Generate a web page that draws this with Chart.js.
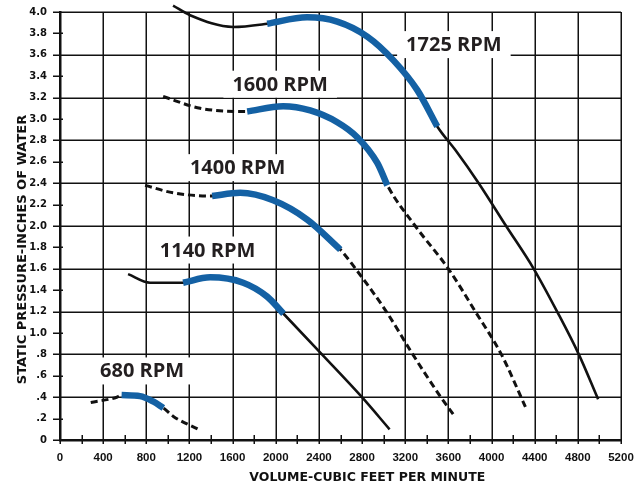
<!DOCTYPE html>
<html>
<head>
<meta charset="utf-8">
<script src="https://cdn.jsdelivr.net/npm/chart.js@4.4.1/dist/chart.umd.min.js"></script>
<style>
  body { margin: 0; background: #fff; }
  canvas { display: block; }
</style>
</head>
<body>
<canvas id="fanChart" width="644" height="484"></canvas>
<script>
// FAN CURVES: volume (cfm) and static pressure (in. of water)
const cfm1725 = [1048, 1206, 1605, 1920, 2291, 2570, 2848, 3089, 3312, 3497, 3665, 3881, 4135, 4391, 4608, 4809, 4988];
const sp1725  = [4.06, 3.97, 3.86, 3.89, 3.95, 3.91, 3.77, 3.55, 3.27, 2.93, 2.71, 2.40, 2.00, 1.60, 1.20, 0.80, 0.38];

const cfm1600 = [956, 1299, 1735, 2069, 2319, 2570, 2755, 2941, 3034, 3293, 3600, 3850, 4091, 4314];
const sp1600  = [3.21, 3.10, 3.07, 3.12, 3.08, 2.97, 2.83, 2.59, 2.38, 2.00, 1.60, 1.20, 0.80, 0.31];

const cfm1400 = [789, 1048, 1410, 1670, 1976, 2291, 2598, 2740, 3025, 3270, 3530, 3660];
const sp1400  = [2.38, 2.31, 2.28, 2.31, 2.24, 2.06, 1.78, 1.60, 1.20, 0.80, 0.40, 0.22];

const cfm1140 = [631, 835, 1141, 1392, 1698, 1920, 2072, 2428, 2799, 3055];
const sp1140  = [1.55, 1.47, 1.47, 1.52, 1.47, 1.34, 1.18, 0.80, 0.40, 0.10];

const cfm680 = [285, 526, 571, 742, 863, 958, 1051, 1283];
const sp680  = [0.35, 0.40, 0.42, 0.41, 0.36, 0.30, 0.22, 0.10];

// which part of each curve is highlighted (first and last point index)
const rpmNames  = ["1725 RPM", "1600 RPM", "1400 RPM", "1140 RPM", "680 RPM"];
const curveCfm  = [cfm1725, cfm1600, cfm1400, cfm1140, cfm680];
const curveSp   = [sp1725, sp1600, sp1400, sp1140, sp680];
const blueFrom  = [3, 2, 2, 2, 2];
const blueTo    = [9, 8, 6, 6, 5];
const isDashed  = [false, true, true, false, true];

// where the RPM captions sit (cfm, in. of water)
const labelCfm = [3651, 2041, 1647, 1368, 761];
const labelSp  = [3.70, 3.33, 2.55, 1.78, 0.65];

// TICK LABELS
const xLabels = ["0","400","800","1200","1600","2000","2400","2800","3200","3600","4000","4400","4800","5200"];
const yLabels = ["0",".2",".4",".6",".8","1.0","1.2","1.4","1.6","1.8","2.0","2.2","2.4","2.6","2.8","3.0","3.2","3.4","3.6","3.8","4.0"];

const BLACK = "#111";
const BLUE = "#1461a4";

function toPoints(xs, ys, a, b) {
    const pts = [];
    for (let i = a; i <= b; i++) pts.push({ x: xs[i], y: ys[i] });
    return pts;
}

const fanDatasets = [];
rpmNames.forEach((name, i) => {
    const xs = curveCfm[i], ys = curveSp[i];
    fanDatasets.push({
        label: name,
        data: toPoints(xs, ys, 0, xs.length - 1),
        borderColor: BLACK,
        borderWidth: isDashed[i] ? 3 : 2.6,
        borderDash: isDashed[i] ? [7, 4] : [],
        order: 1
    });
    fanDatasets.push({
        label: name + " range",
        data: toPoints(xs, ys, blueFrom[i], blueTo[i]),
        borderColor: BLUE,
        borderWidth: 6.5,
        borderCapStyle: "butt",
        order: 0
    });
});

// GRID: a line on every other tick, a short mark on every tick
const paperGrid = {
    id: "paperGrid",
    beforeDatasetsDraw(chart) {
        const c = chart.ctx;
        const { left, right, top, bottom } = chart.chartArea;
        const sx = chart.scales.x, sy = chart.scales.y;
        c.save();
        c.strokeStyle = BLACK;
        c.lineWidth = 1.5;
        c.beginPath();
        sx.ticks.forEach((t, i) => {
            const p = Math.round(sx.getPixelForValue(t.value)) + 0.25;
            if (i % 2 === 0) { c.moveTo(p, top); c.lineTo(p, bottom); }
            c.moveTo(p, bottom - 5); c.lineTo(p, bottom + 4);
        });
        sy.ticks.forEach((t, i) => {
            const p = Math.round(sy.getPixelForValue(t.value)) + 0.25;
            if (i % 2 === 0) { c.moveTo(left, p); c.lineTo(right, p); }
            c.moveTo(left - 7, p); c.lineTo(left + 3, p);
        });
        c.stroke();
        c.restore();
    }
};

// CAPTIONS AND AXIS TITLES
const captions = {
    id: "captions",
    afterDatasetsDraw(chart) {
        const c = chart.ctx;
        const sx = chart.scales.x, sy = chart.scales.y;
        c.save();
        c.font = 'bold 20px "Open Sans"';
        c.textAlign = "center";
        c.textBaseline = "alphabetic";
        rpmNames.forEach((name, i) => {
            const px = sx.getPixelForValue(labelCfm[i]);
            const py = sy.getPixelForValue(labelSp[i]);
            const w = c.measureText(name).width + 18;
            c.fillStyle = "#fff";
            c.fillRect(px - w / 2, py - 13, w, 27);
            c.fillStyle = "#231f20";
            c.fillText(name, px, py + 7);
        });

        c.fillStyle = BLACK;
        c.font = 'bold 12.5px "DejaVu Sans"';
        c.fillText("VOLUME-CUBIC FEET PER MINUTE", sx.getPixelForValue(2848), 481);

        c.translate(26, sy.getPixelForValue(1.78));
        c.rotate(-Math.PI / 2);
        c.font = 'bold 13px "DejaVu Sans"';
        c.fillText("STATIC PRESSURE-INCHES OF WATER", 0, 0);
        c.restore();
    }
};

new Chart(document.getElementById("fanChart"), {
    type: "line",
    data: { datasets: fanDatasets },
    plugins: [paperGrid, captions],
    options: {
        responsive: false,
        animation: false,
        layout: { padding: { top: 12, right: 23, left: 0, bottom: 0 } },
        datasets: {
            line: {
                pointRadius: 0,
                cubicInterpolationMode: "monotone",
                fill: false,
                clip: false
            }
        },
        plugins: { legend: { display: false }, tooltip: { enabled: false } },
        scales: {
            x: {
                type: "linear",
                min: 0, max: 5200,
                afterFit: s => { s.height = 44; },
                ticks: {
                    stepSize: 200,
                    autoSkip: false,
                    maxRotation: 0,
                    padding: 6,
                    color: BLACK,
                    font: { family: "Liberation Sans", size: 11.5, weight: "bold" },
                    callback: (v, i) => (i % 2 === 0 ? xLabels[i / 2] : "")
                },
                // lines come from paperGrid; tickLength only keeps the label gap
                grid: { display: false, tickLength: 5 },
                border: { display: true, color: BLACK, width: 2.5 }
            },
            y: {
                type: "linear",
                min: 0, max: 4,
                afterFit: s => { s.width = 60; },
                ticks: {
                    stepSize: 0.2,
                    padding: 6,
                    color: BLACK,
                    font: { family: "DejaVu Sans", size: 10, weight: "bold" },
                    callback: (v, i) => yLabels[i]
                },
                grid: { display: false, tickLength: 7 },
                border: { display: true, color: BLACK, width: 2.5 }
            }
        }
    }
});
</script>
</body>
</html>
